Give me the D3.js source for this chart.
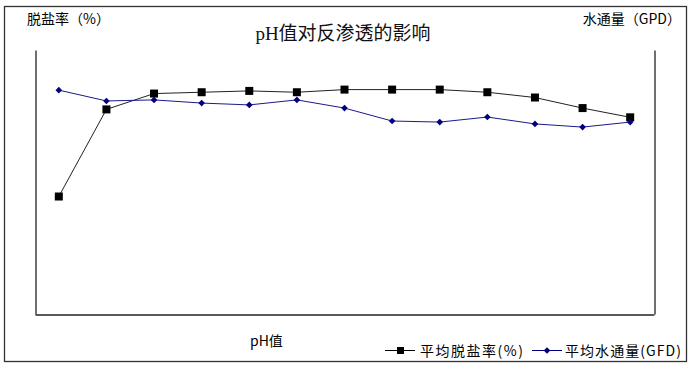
<!DOCTYPE html>
<html><head><meta charset="utf-8">
<script src="https://cdn.jsdelivr.net/npm/d3@7"></script>
<style>body{margin:0;background:#fff}svg{display:block}</style>
</head><body>
<script>
// Data (axes carry no tick labels)
const categories = ["1","2","3","4","5","6","7","8","9","10","11","12","13"]; // pH values
const saltRejection = [88.9,95.5,96.7,96.8,96.9,96.8,97.0,97.0,97.0,96.8,96.4,95.6,94.9]; // 平均脱盐率(%)
const waterFlux = [84.8,80.7,81.1,79.9,79.2,81.1,78.0,73.1,72.7,74.6,72.0,70.8,72.7]; // 平均水通量(GFD)
const leftDomain = [80,100];
const rightDomain = [0,100];

const W=693,H=367;
const svg=d3.select("body").append("svg").attr("width",W).attr("height",H);
const cjk='"Noto Sans CJK SC","Noto Sans",sans-serif';

// outer frame
svg.append("rect").attr("x",4.5).attr("y",6.5).attr("width",682).attr("height",355)
  .attr("fill","none").attr("stroke","#333").attr("stroke-width",1.3);

const plot={l:35,r:654,t:50,b:314};
const x=d3.scaleBand().domain(categories).range([plot.l,plot.r]);
const yL=d3.scaleLinear().domain(leftDomain).range([plot.b,plot.t]);
const yR=d3.scaleLinear().domain(rightDomain).range([plot.b,plot.t]);
const cx=d=>x(d)+x.bandwidth()/2;

// axes (no ticks)
const axL=svg.append("g").attr("transform",`translate(${plot.l+0.5},0)`).call(d3.axisLeft(yL).tickValues([]).tickSizeOuter(0));
const axR=svg.append("g").attr("transform",`translate(${plot.r+0.5},0)`).call(d3.axisRight(yR).tickValues([]).tickSizeOuter(0));
const axB=svg.append("g").attr("transform",`translate(0,${plot.b+0.5})`).call(d3.axisBottom(x).tickValues([]).tickSizeOuter(0));
[axL,axR,axB].forEach(a=>a.select(".domain").attr("stroke","#222").attr("stroke-width",1.3));

// salt rejection line
const lineL=d3.line().x((d,i)=>cx(categories[i])).y(d=>yL(d));
svg.append("path").datum(saltRejection).attr("d",lineL).attr("fill","none").attr("stroke","#222").attr("stroke-width",1);
// water flux line
const lineR=d3.line().x((d,i)=>cx(categories[i])).y(d=>yR(d));
svg.append("path").datum(waterFlux).attr("d",lineR).attr("fill","none").attr("stroke","#1a1a8c").attr("stroke-width",1);

svg.selectAll(".sq").data(saltRejection).enter().append("rect")
  .attr("x",(d,i)=>cx(categories[i])-4).attr("y",d=>yL(d)-4).attr("width",8).attr("height",8).attr("fill","#000");
const diamond=d3.symbol().type(d3.symbolSquare).size(22);
svg.selectAll(".dm").data(waterFlux).enter().append("path")
  .attr("d",diamond).attr("transform",(d,i)=>`translate(${cx(categories[i])},${yR(d)}) rotate(45)`).attr("fill","#000080");

// texts
svg.append("text").attr("x",343).attr("y",40).attr("text-anchor","middle")
  .attr("font-family",'"Liberation Serif","Noto Sans CJK SC",serif').attr("font-size",19).attr("fill","#111").text("pH值对反渗透的影响");
svg.append("text").attr("x",27).attr("y",24).attr("font-family",cjk).attr("font-size",14).text("脱盐率（%）");
svg.append("text").attr("x",681).attr("y",24).attr("text-anchor","end").attr("font-family",cjk).attr("font-size",14).text("水通量（GPD）");
svg.append("text").attr("x",250).attr("y",346).attr("font-family",cjk).attr("font-size",14).text("pH值");

// legend
const lg=svg.append("g").attr("font-family",cjk).attr("font-size",14);
lg.append("line").attr("x1",385).attr("x2",415).attr("y1",350.5).attr("y2",350.5).attr("stroke","#000");
lg.append("rect").attr("x",397).attr("y",347).attr("width",7).attr("height",7).attr("fill","#000");
lg.append("text").attr("x",420).attr("y",356).attr("textLength",103).text("平均脱盐率(%)");
lg.append("line").attr("x1",532).attr("x2",562).attr("y1",350.5).attr("y2",350.5).attr("stroke","#000080");
lg.append("path").attr("d",diamond).attr("transform","translate(547,350.5) rotate(45)").attr("fill","#000080");
lg.append("text").attr("x",565).attr("y",356).attr("textLength",116).text("平均水通量(GFD)");
</script>
</body></html>
